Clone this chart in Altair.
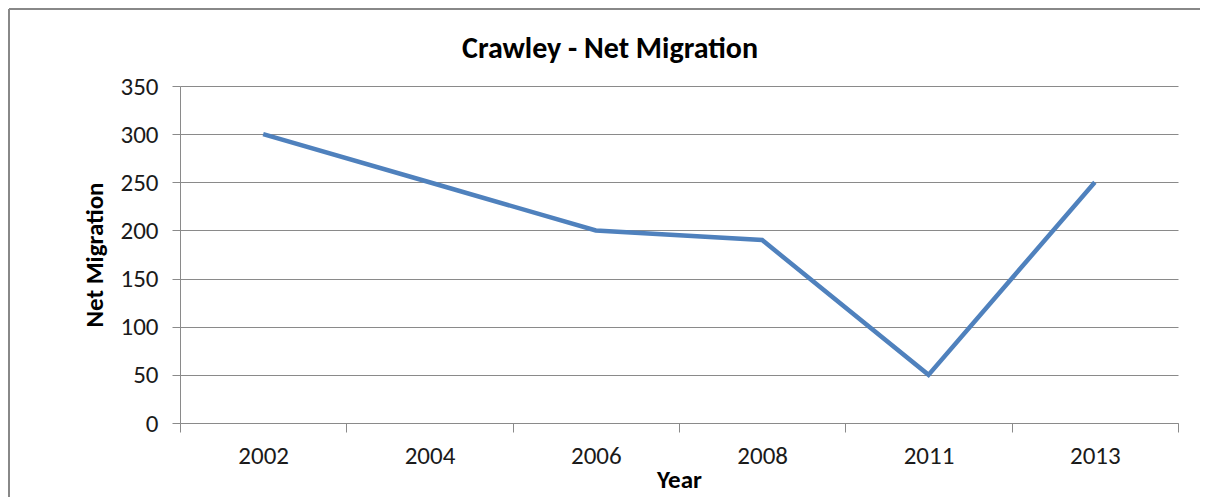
import altair as alt
import pandas as pd

years = ["2002", "2004", "2006", "2008", "2011", "2013"]
net_migration = [300, 250, 200, 190, 50, 250]
y_ticks = [0, 50, 100, 150, 200, 250, 300, 350]
chart_title = "Crawley - Net Migration"

df = pd.DataFrame({"Year": years, "Net Migration": net_migration})

FONT = "Carlito, Calibri, Lato, sans-serif"
GRID = "#8a8a8a"
W, H = 998, 337
TOP = 78

line = alt.Chart(df).mark_line(color="#4F81BD", strokeWidth=4.5).encode(
    x=alt.X(
        "Year:N",
        sort=years,
        scale=alt.Scale(type="band", paddingInner=0, paddingOuter=0),
        axis=alt.Axis(
            title="Year",
            tickBand="extent",
            grid=False,
            domainColor=GRID,
            tickColor=GRID,
            tickSize=9,
            labelPadding=11,
            labelAngle=0,
            labelFont=FONT,
            labelFontSize=25,
            labelColor="#1a1a1a",
            titleFont=FONT,
            titleFontSize=25,
            titleFontWeight="bold",
            titleColor="#000000",
            titleX=W / 2,
            titleY=64,
            titleBaseline="alphabetic",
        ),
    ),
    y=alt.Y(
        "Net Migration:Q",
        scale=alt.Scale(domain=[0, 350], nice=False),
        axis=alt.Axis(
            title="Net Migration",
            values=y_ticks,
            grid=True,
            gridColor=GRID,
            domainColor=GRID,
            tickColor=GRID,
            tickSize=8,
            labelPadding=14,
            labelFont=FONT,
            labelFontSize=25,
            labelColor="#1a1a1a",
            titleFont=FONT,
            titleFontSize=25,
            titleFontWeight="bold",
            titleColor="#000000",
            titleX=-78,
            titleY=H / 2,
            titleAngle=270,
            titleAlign="center",
            titleBaseline="alphabetic",
        ),
    ),
)

title_df = pd.DataFrame({"t": [chart_title]})
title = alt.Chart(title_df).mark_text(
    font=FONT, fontSize=30, fontWeight="bold", color="#000000",
    align="center", baseline="alphabetic"
).encode(
    text="t:N",
    x=alt.value(W / 2 - 69),
    y=alt.value(50 - TOP),
)

border_top = alt.Chart(title_df).mark_rule(stroke="#888888", strokeWidth=2).encode(
    x=alt.value(-171),
    x2=alt.value(W + 22),
    y=alt.value(1 - TOP),
)
border_left = alt.Chart(title_df).mark_rule(stroke="#888888", strokeWidth=2).encode(
    x=alt.value(-171),
    y=alt.value(1 - TOP),
    y2=alt.value(H + 74),
)

chart = alt.layer(border_top, border_left, line, title).properties(
    width=W,
    height=H,
    autosize=alt.AutoSizeParams(type="none"),
    padding={"left": 172, "top": TOP, "right": 22, "bottom": 74},
).configure_view(stroke=None)

chart.save("out.html", embed_options={"renderer": "svg", "actions": False})
